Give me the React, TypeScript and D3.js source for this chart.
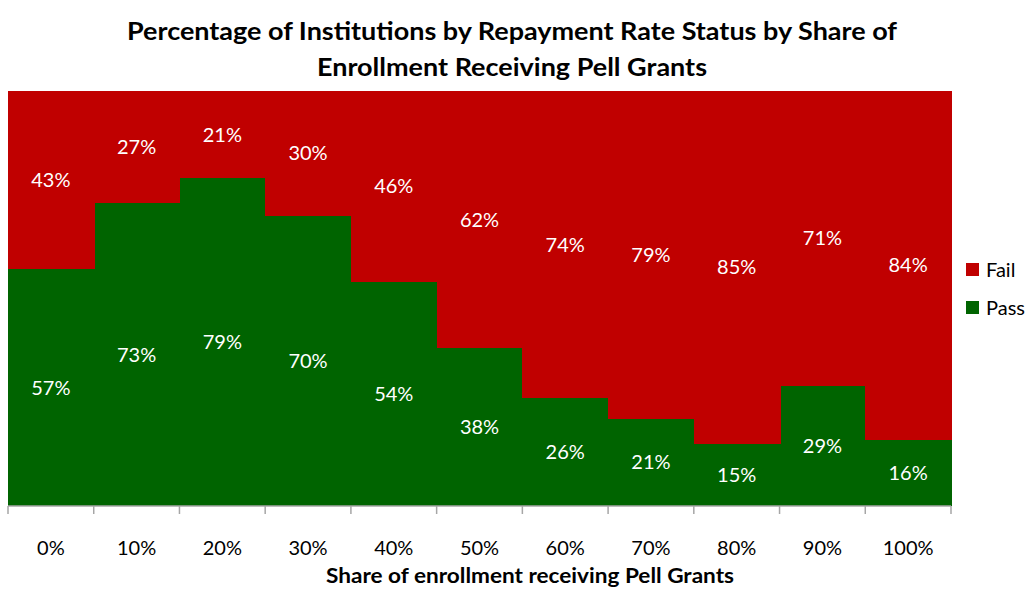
import React, { useEffect, useRef } from "react";
import * as d3 from "d3";

const categories = ["0%", "10%", "20%", "30%", "40%", "50%", "60%", "70%", "80%", "90%", "100%"];
const passValues = [57, 73, 79, 70, 54, 38, 26, 21, 15, 29, 16];
const failValues = [43, 27, 21, 30, 46, 62, 74, 79, 85, 71, 84];
const seriesNames = ["Pass", "Fail"];
const colors: Record<string, string> = { Pass: "#006400", Fail: "#C00000" };

const W = 1031;
const H = 590;
const margin = { top: 91, right: 80, bottom: 84, left: 8 };
const FONT = "Lato, 'Open Sans', sans-serif";

function App() {
  const ref = useRef<SVGSVGElement>(null);

  useEffect(() => {
    const svg = d3.select(ref.current);
    svg.selectAll("*").remove();

    const rows = categories.map((c, i) => ({ cat: c, Pass: passValues[i], Fail: failValues[i] }));
    const stack = d3.stack<any>().keys(seriesNames)(rows);

    const x = d3
      .scaleBand()
      .domain(categories)
      .range([margin.left, W - margin.right])
      .padding(0);
    const y = d3
      .scaleLinear()
      .domain([0, 100])
      .range([H - margin.bottom, margin.top]);

    const g = svg.append("g");
    stack.forEach((s) => {
      g.append("g")
        .attr("fill", colors[s.key])
        .attr("shape-rendering", "crispEdges")
        .selectAll("rect")
        .data(s)
        .enter()
        .append("rect")
        .attr("x", (d: any) => x(d.data.cat) as number)
        .attr("y", (d) => y(d[1]))
        .attr("width", x.bandwidth() + 1)
        .attr("height", (d) => y(d[0]) - y(d[1]));
    });
    stack.forEach((s) => {
      g.append("g")
        .selectAll("text")
        .data(s)
        .enter()
        .append("text")
        .attr("x", (d: any) => (x(d.data.cat) as number) + x.bandwidth() / 2)
        .attr("y", (d) => (y(d[0]) + y(d[1])) / 2)
        .attr("dy", "0.35em")
        .attr("text-anchor", "middle")
        .attr("fill", "#fff")
        .attr("font-family", FONT)
        .attr("font-size", 20)
        .text((d: any) => d.data[s.key] + "%");
    });

    // x axis
    const axisY = H - margin.bottom;
    const axis = svg.append("g").attr("transform", `translate(0,${axisY})`);
    axis
      .append("line")
      .attr("x1", margin.left)
      .attr("x2", W - margin.right)
      .attr("stroke", "#a6a6a6")
      .attr("stroke-width", 1.5);
    const edges = categories.map((c) => x(c) as number).concat([W - margin.right]);
    axis
      .selectAll("line.tick")
      .data(edges)
      .enter()
      .append("line")
      .attr("class", "tick")
      .attr("x1", (d) => d)
      .attr("x2", (d) => d)
      .attr("y1", 0)
      .attr("y2", 8)
      .attr("stroke", "#a6a6a6")
      .attr("stroke-width", 1.5);
    axis
      .selectAll("text")
      .data(categories)
      .enter()
      .append("text")
      .attr("x", (d) => (x(d) as number) + x.bandwidth() / 2)
      .attr("y", 49)
      .attr("text-anchor", "middle")
      .attr("font-family", FONT)
      .attr("font-size", 20)
      .attr("fill", "#000")
      .text((d) => d);

    svg
      .append("text")
      .attr("x", 530)
      .attr("y", 583)
      .attr("text-anchor", "middle")
      .attr("font-family", FONT)
      .attr("font-weight", "bold")
      .attr("font-size", 21)
      .attr("textLength", 408)
      .attr("lengthAdjust", "spacingAndGlyphs")
      .text("Share of enrollment receiving Pell Grants");

    // title
    const title = ["Percentage of Institutions by Repayment Rate Status by Share of", "Enrollment Receiving Pell Grants"];
    const titleLen = [770, 390];
    svg
      .append("g")
      .selectAll("text")
      .data(title)
      .enter()
      .append("text")
      .attr("x", 512)
      .attr("y", (d, i) => 40 + i * 36)
      .attr("text-anchor", "middle")
      .attr("font-family", FONT)
      .attr("font-weight", "bold")
      .attr("font-size", 25)
      .attr("textLength", (d, i) => titleLen[i])
      .attr("lengthAdjust", "spacingAndGlyphs")
      .text((d) => d);

    // legend
    const legend = svg.append("g").attr("transform", "translate(966,270)");
    ["Fail", "Pass"].forEach((k, i) => {
      const row = legend.append("g").attr("transform", `translate(0,${i * 38})`);
      row.append("rect").attr("x", 0).attr("y", -7).attr("width", 13).attr("height", 13).attr("fill", colors[k]);
      row
        .append("text")
        .attr("x", 20)
        .attr("y", 0)
        .attr("dy", "0.35em")
        .attr("font-family", FONT)
        .attr("font-size", 20)
        .text(k);
    });
  }, []);

  return <svg ref={ref} width={W} height={H} style={{ position: "absolute", left: 0, top: 0 }} />;
}

export default App;
